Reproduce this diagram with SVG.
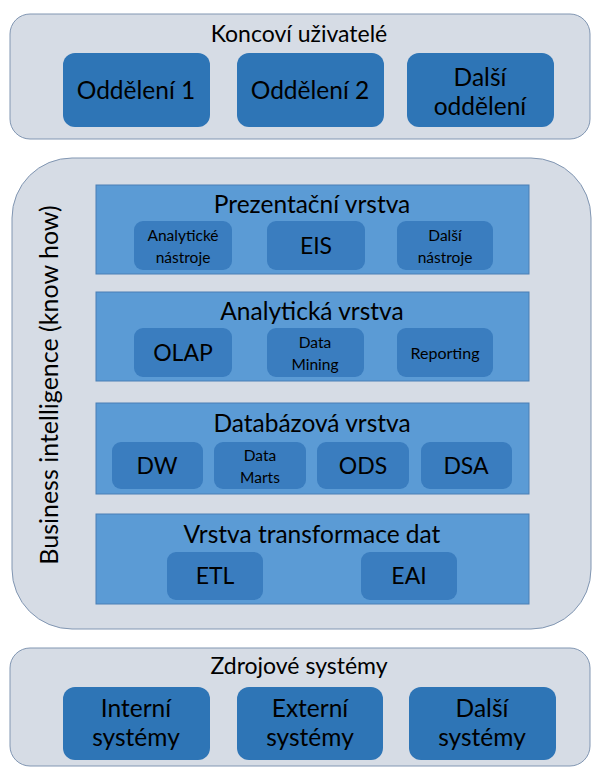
<svg xmlns="http://www.w3.org/2000/svg" width="594" height="767" viewBox="0 0 594 767">
<style>
.cont{fill:#d6dce5;stroke:#8196b2;stroke-width:1}
.band{fill:#5b9bd5;stroke:#4a7fb5;stroke-width:1}
.box{fill:#2e75b6}
.sub{fill:#3a7dbf}
text{font-family:Lato,"Liberation Sans",sans-serif;fill:#000;text-anchor:middle}
.h{font-size:23px}
.t{font-size:24.5px}
.b{font-size:24.5px}
.s{font-size:15.5px}
.m{font-size:23px}
</style>
<rect width="594" height="767" fill="#ffffff"/>
<g id="koncovi">
<rect class="cont" x="10" y="14" width="580" height="125" rx="20"/>
<text class="h" x="299" y="42">Koncoví uživatelé</text>
</g>
<g id="oddeleni1"><rect class="box" x="63" y="53" width="147" height="74" rx="12"/><text class="b" x="136" y="99">Oddělení 1</text></g>
<g id="oddeleni2"><rect class="box" x="237" y="53" width="147" height="74" rx="12"/><text class="b" x="310" y="99">Oddělení 2</text></g>
<g id="dalsi-oddeleni"><rect class="box" x="407" y="53" width="147" height="74" rx="12"/><text class="b" x="480" y="86">Další</text><text class="b" x="480" y="115">oddělení</text></g>

<g id="bi">
<rect class="cont" x="12" y="158" width="579" height="471" rx="60"/>
<text class="b" style="font-size:25px" transform="translate(58,385) rotate(-90)">Business intelligence (know how)</text>
</g>

<g id="prezentacni">
<rect class="band" x="96" y="185" width="433" height="89"/>
<text class="t" x="312" y="213">Prezentační vrstva</text>
</g>
<g id="analyticke-nastroje"><rect class="sub" x="134" y="221" width="98" height="49" rx="9"/><text class="s" x="183" y="241">Analytické</text><text class="s" x="183" y="263">nástroje</text></g>
<g id="eis"><rect class="sub" x="267" y="221" width="98" height="49" rx="9"/><text class="m" x="316" y="254">EIS</text></g>
<g id="dalsi-nastroje"><rect class="sub" x="397" y="221" width="96" height="49" rx="9"/><text class="s" x="445" y="241">Další</text><text class="s" x="445" y="263">nástroje</text></g>

<g id="analyticka">
<rect class="band" x="96" y="292" width="433" height="89"/>
<text class="t" x="312" y="320">Analytická vrstva</text>
</g>
<g id="olap"><rect class="sub" x="134" y="328" width="98" height="49" rx="9"/><text class="m" x="183" y="361">OLAP</text></g>
<g id="data-mining"><rect class="sub" x="267" y="328" width="97" height="49" rx="9"/><text class="s" x="315" y="348">Data</text><text class="s" x="315" y="370">Mining</text></g>
<g id="reporting"><rect class="sub" x="397" y="328" width="96" height="49" rx="9"/><text class="s" style="font-size:16px" x="445" y="359">Reporting</text></g>

<g id="databazova">
<rect class="band" x="96" y="403" width="433" height="91"/>
<text class="t" x="312" y="432">Databázová vrstva</text>
</g>
<g id="dw"><rect class="sub" x="112" y="442" width="91" height="47" rx="9"/><text class="m" x="157" y="474">DW</text></g>
<g id="data-marts"><rect class="sub" x="214" y="442" width="92" height="47" rx="9"/><text class="s" x="260" y="461">Data</text><text class="s" x="260" y="483">Marts</text></g>
<g id="ods"><rect class="sub" x="317" y="442" width="92" height="47" rx="9"/><text class="m" x="363" y="474">ODS</text></g>
<g id="dsa"><rect class="sub" x="421" y="442" width="91" height="47" rx="9"/><text class="m" x="466" y="474">DSA</text></g>

<g id="transformace">
<rect class="band" x="96" y="514" width="433" height="90"/>
<text class="t" x="312" y="543">Vrstva transformace dat</text>
</g>
<g id="etl"><rect class="sub" x="167" y="552" width="96" height="48" rx="9"/><text class="m" x="215" y="584">ETL</text></g>
<g id="eai"><rect class="sub" x="361" y="552" width="96" height="48" rx="9"/><text class="m" x="409" y="584">EAI</text></g>

<g id="zdrojove">
<rect class="cont" x="10" y="648" width="580" height="118" rx="20"/>
<text class="h" x="299" y="674">Zdrojové systémy</text>
</g>
<g id="interni"><rect class="box" x="63" y="687" width="147" height="73" rx="12"/><text class="b" x="136" y="717">Interní</text><text class="b" x="136" y="746">systémy</text></g>
<g id="externi"><rect class="box" x="237" y="687" width="146" height="73" rx="12"/><text class="b" x="310" y="717">Externí</text><text class="b" x="310" y="746">systémy</text></g>
<g id="dalsi-systemy"><rect class="box" x="409" y="687" width="147" height="73" rx="12"/><text class="b" x="482" y="717">Další</text><text class="b" x="482" y="746">systémy</text></g>
<g id="connectors"/>
</svg>
